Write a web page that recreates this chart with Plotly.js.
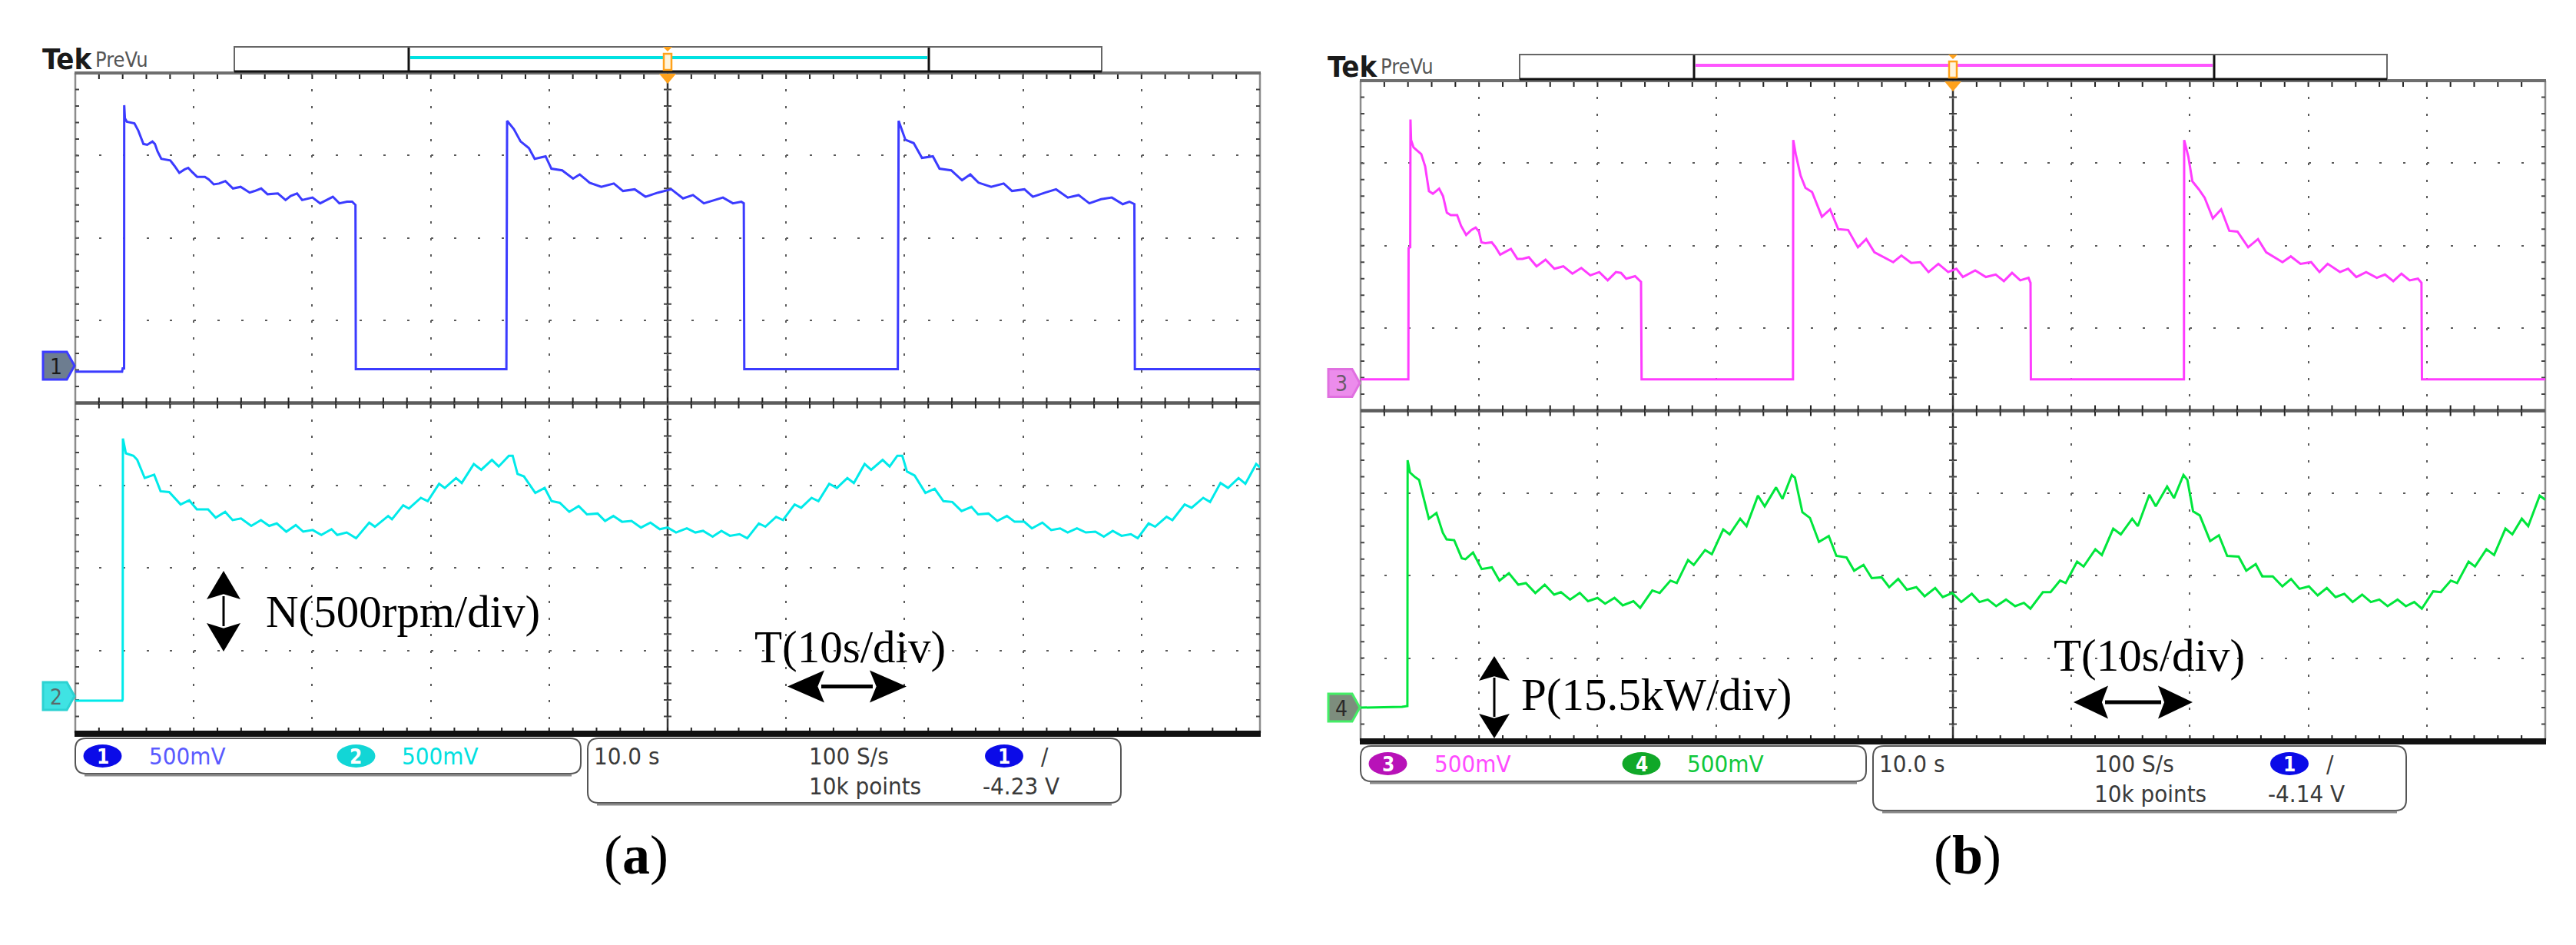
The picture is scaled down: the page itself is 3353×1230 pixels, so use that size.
<!DOCTYPE html>
<html><head><meta charset="utf-8">
<script src="https://cdn.plot.ly/plotly-3.0.1.min.js"></script>
<style>html,body{margin:0;padding:0;background:#fff}</style>
</head><body>
<div id="chart" style="width:3353px;height:1230px"></div>
<script>
// ---- DATA (time in s, value in screen divisions, 0 = bottom of graticule, 8 = top) ----
const ch1_samples = [[0,4.38],[3.95,4.38],[4.0,4.42],[4.12,4.42],[4.13,7.61],[4.19,7.45],[4.35,7.41],[4.99,7.39],[5.32,7.30],[5.75,7.14],[6.07,7.13],[6.51,7.17],[6.72,7.14],[6.94,7.05],[7.26,6.96],[8.02,6.94],[8.34,6.88],[8.78,6.79],[9.21,6.83],[9.53,6.85],[9.86,6.80],[10.29,6.74],[10.94,6.74],[11.26,6.71],[11.69,6.65],[12.13,6.66],[12.67,6.69],[13.31,6.60],[13.96,6.62],[14.29,6.59],[14.72,6.55],[15.15,6.57],[15.69,6.60],[16.23,6.53],[17.10,6.54],[17.75,6.46],[18.18,6.51],[18.72,6.54],[19.15,6.46],[20.02,6.49],[20.67,6.42],[21.21,6.46],[21.74,6.50],[22.29,6.42],[22.94,6.44],[23.37,6.44],[23.65,6.40],[23.68,4.41],
[36.39,4.41],[36.45,7.42],[37.02,7.32],[37.59,7.17],[38.29,7.09],[38.78,6.96],[39.70,6.99],[40.19,6.84],[41.10,6.82],[42.02,6.72],[42.58,6.77],[43.42,6.67],[44.40,6.62],[45.46,6.66],[46.23,6.57],[47.22,6.59],[48.13,6.50],[49.19,6.55],[50.31,6.59],[51.30,6.48],[52.14,6.52],[53.06,6.42],[53.97,6.46],[54.67,6.49],[55.51,6.42],[56.22,6.44],[56.43,6.42],[56.47,4.41],
[69.43,4.41],[69.50,7.42],[70.07,7.19],[70.77,7.15],[71.47,6.97],[72.39,6.99],[72.95,6.84],[73.94,6.82],[74.85,6.70],[75.55,6.77],[76.25,6.67],[77.31,6.62],[78.37,6.66],[79.07,6.57],[80.12,6.59],[80.83,6.50],[81.88,6.55],[82.79,6.59],[83.78,6.49],[84.69,6.52],[85.60,6.42],[86.59,6.47],[87.50,6.49],[88.42,6.41],[88.98,6.44],[89.40,6.41],[89.44,4.41],[100,4.41]];

const ch2_samples = [[0,0.39],[3.96,0.39],[4.0,0.41],[4.02,3.57],[4.27,3.39],[4.91,3.36],[5.23,3.31],[5.86,3.09],[6.66,3.13],[7.20,2.93],[7.93,2.92],[8.89,2.77],[9.62,2.82],[10.26,2.71],[11.21,2.71],[11.85,2.61],[12.65,2.68],[13.28,2.58],[13.99,2.60],[14.85,2.51],[15.67,2.58],[16.37,2.51],[17.01,2.54],[17.81,2.44],[18.61,2.52],[19.24,2.44],[20.04,2.46],[20.77,2.40],[21.63,2.47],[22.11,2.40],[22.91,2.43],[23.70,2.36],[24.81,2.55],[25.29,2.50],[26.41,2.63],[26.73,2.59],[27.68,2.76],[28.16,2.72],[29.17,2.85],[29.75,2.81],[30.71,3.02],[31.19,2.97],[32.14,3.09],[32.62,3.03],[33.64,3.26],[34.27,3.19],[35.17,3.31],[35.74,3.23],[36.60,3.36],[36.92,3.36],[37.33,3.14],[37.87,3.11],[38.83,2.91],[39.62,2.97],[40.20,2.81],[40.90,2.79],[41.70,2.68],[42.49,2.75],[43.19,2.65],[44.09,2.66],[44.72,2.57],[45.42,2.63],[46.15,2.56],[46.95,2.57],[47.75,2.49],[48.55,2.55],[49.34,2.47],[50.00,2.49],[50.71,2.43],[51.62,2.48],[52.34,2.43],[52.99,2.45],[53.80,2.38],[54.54,2.45],[55.26,2.39],[56.07,2.41],[56.72,2.36],[57.70,2.54],[58.25,2.50],[59.16,2.62],[59.74,2.58],[60.72,2.77],[61.27,2.73],[62.15,2.85],[62.73,2.81],[63.64,3.02],[64.29,2.97],[65.17,3.09],[65.72,3.03],[66.63,3.26],[67.18,3.19],[68.15,3.31],[68.74,3.23],[69.39,3.36],[69.81,3.36],[70.20,3.17],[70.85,3.12],[71.76,2.91],[72.54,2.96],[73.28,2.81],[74.03,2.80],[74.81,2.69],[75.65,2.74],[76.21,2.65],[77.08,2.66],[77.83,2.57],[78.64,2.63],[79.29,2.56],[80.10,2.56],[80.75,2.48],[81.63,2.55],[82.38,2.46],[83.13,2.48],[83.77,2.43],[84.55,2.48],[85.30,2.43],[86.11,2.44],[86.82,2.38],[87.57,2.45],[88.32,2.39],[89.10,2.41],[89.68,2.36],[90.60,2.54],[91.15,2.50],[92.12,2.62],[92.61,2.58],[93.64,2.77],[94.23,2.73],[95.21,2.85],[95.79,2.80],[96.67,3.03],[97.31,2.97],[98.19,3.09],[98.77,3.02],[99.68,3.26],[100,3.22]];

const ch3_samples = [[0,4.38],[4.03,4.38],[4.05,5.97],[4.19,5.98],[4.21,7.53],[4.26,7.28],[4.47,7.19],[5.12,7.11],[5.45,6.96],[5.77,6.66],[6.10,6.63],[6.63,6.69],[6.96,6.60],[7.28,6.40],[7.61,6.37],[8.15,6.37],[8.48,6.24],[8.91,6.13],[9.34,6.19],[9.71,6.22],[9.99,6.17],[10.20,6.04],[10.53,6.03],[11.07,6.04],[11.40,5.98],[11.78,5.89],[12.15,5.92],[12.69,5.96],[13.23,5.84],[13.66,5.84],[14.20,5.86],[14.85,5.75],[15.61,5.83],[16.36,5.72],[17.12,5.75],[17.88,5.66],[18.63,5.73],[19.39,5.64],[20.15,5.68],[20.86,5.58],[21.55,5.68],[21.98,5.67],[22.42,5.60],[23.17,5.63],[23.67,5.56],[23.72,4.38],
[36.50,4.38],[36.52,7.28],[36.73,7.11],[37.14,6.85],[37.55,6.70],[38.11,6.65],[38.94,6.35],[39.63,6.44],[40.32,6.20],[41.15,6.19],[41.98,5.98],[42.68,6.08],[43.37,5.92],[44.96,5.80],[45.65,5.88],[46.48,5.79],[47.25,5.80],[47.94,5.68],[48.77,5.78],[49.60,5.68],[50.29,5.72],[50.84,5.62],[51.88,5.70],[52.78,5.62],[53.61,5.65],[54.30,5.57],[54.99,5.67],[55.68,5.58],[56.38,5.61],[56.55,5.55],[56.58,4.38],
[69.50,4.38],[69.52,7.28],[69.87,7.08],[70.21,6.78],[70.77,6.68],[71.25,6.58],[71.94,6.33],[72.64,6.44],[73.33,6.18],[74.02,6.17],[74.92,5.98],[75.75,6.08],[76.44,5.92],[77.82,5.80],[78.52,5.87],[79.34,5.78],[80.24,5.80],[80.94,5.68],[81.63,5.78],[82.67,5.68],[83.36,5.72],[84.05,5.62],[84.88,5.68],[85.78,5.61],[86.47,5.65],[87.17,5.57],[87.86,5.66],[88.55,5.58],[89.25,5.60],[89.55,5.55],[89.59,4.38],[100,4.38]];

const ch4_samples = [[0,0.40],[3.5,0.41],[3.95,0.42],[3.97,3.40],[4.17,3.25],[4.55,3.20],[4.94,3.16],[5.35,2.91],[5.76,2.69],[6.40,2.76],[6.94,2.52],[7.26,2.44],[7.90,2.43],[8.54,2.21],[8.85,2.20],[9.49,2.28],[10.22,2.08],[11.08,2.10],[11.72,1.94],[12.52,2.03],[13.31,1.89],[13.95,1.91],[14.75,1.79],[15.54,1.89],[16.34,1.77],[16.91,1.80],[17.68,1.71],[18.50,1.79],[19.20,1.69],[20.00,1.73],[20.64,1.66],[21.43,1.73],[22.13,1.64],[23.03,1.69],[23.60,1.61],[24.62,1.82],[25.25,1.79],[26.15,1.94],[26.69,1.91],[27.64,2.19],[28.12,2.13],[29.08,2.31],[29.65,2.26],[30.61,2.56],[31.15,2.50],[32.04,2.69],[32.58,2.60],[33.54,2.97],[34.11,2.84],[35.07,3.07],[35.61,2.93],[36.40,3.22],[36.66,3.19],[37.29,2.77],[37.93,2.70],[38.69,2.41],[39.52,2.48],[40.16,2.24],[41.02,2.22],[41.66,2.06],[42.45,2.13],[43.15,1.97],[43.98,1.98],[44.62,1.86],[45.38,1.96],[46.11,1.83],[46.91,1.86],[47.61,1.75],[48.50,1.85],[49.14,1.74],[49.94,1.79],[50.70,1.68],[51.59,1.78],[52.24,1.68],[52.94,1.71],[53.65,1.63],[54.48,1.71],[55.25,1.63],[55.99,1.67],[56.54,1.60],[57.59,1.80],[58.24,1.80],[59.04,1.94],[59.52,1.91],[60.48,2.17],[61.03,2.11],[62.02,2.32],[62.57,2.25],[63.53,2.57],[64.17,2.50],[65.13,2.69],[65.61,2.60],[66.58,2.98],[67.12,2.84],[68.08,3.08],[68.66,2.94],[69.46,3.22],[69.79,3.16],[70.27,2.78],[70.84,2.73],[71.71,2.42],[72.45,2.49],[73.15,2.24],[74.12,2.23],[74.76,2.06],[75.56,2.14],[76.11,1.99],[77.00,1.99],[77.81,1.87],[78.54,1.96],[79.25,1.84],[80.05,1.87],[80.79,1.76],[81.56,1.85],[82.30,1.74],[83.04,1.78],[83.74,1.68],[84.54,1.77],[85.28,1.68],[85.99,1.71],[86.69,1.63],[87.53,1.71],[88.23,1.63],[88.94,1.68],[89.58,1.60],[90.54,1.81],[91.18,1.80],[92.02,1.94],[92.56,1.91],[93.53,2.17],[94.07,2.11],[95.03,2.32],[95.68,2.25],[96.64,2.57],[97.22,2.50],[98.02,2.69],[98.56,2.60],[99.53,2.97],[100,2.92]];

const channel_names = ['1','2','3','4'];
const channel_scales = ['500mV','500mV','500mV','500mV'];
const timebase_labels = ['10.0 s','10.0 s'];
const sample_rate_labels = ['100 S/s','100 S/s'];
const record_labels = ['10k points','10k points'];
const trigger_levels = ['-4.23 V','-4.14 V'];
const quantity_labels = ['N(500rpm/div)','P(15.5kW/div)'];
const time_label = 'T(10s/div)';
const panel_tags = ['a','b'];

// ---- drawing helpers ----
const W = 3353, H = 1230;
const nx = v => v / W, ny = v => 1 - v / H;
const sx = v => nx(v).toFixed(6), sy = v => ny(v).toFixed(6);
const shapes = [], annotations = [];
const FN = "Liberation Sans Narrow, DejaVu Sans Condensed, Liberation Sans, sans-serif";
const FS = "Liberation Serif, serif";
function seg(x0,y0,x1,y1){return 'M'+sx(x0)+','+sy(y0)+'L'+sx(x1)+','+sy(y1);}
function poly(pts){return 'M'+pts.map(p=>sx(p[0])+','+sy(p[1])).join('L')+'Z';}
function rrect(x0,y0,x1,y1,r){
  return 'M'+sx(x0+r)+','+sy(y0)+'L'+sx(x1-r)+','+sy(y0)+'Q'+sx(x1)+','+sy(y0)+' '+sx(x1)+','+sy(y0+r)+
   'L'+sx(x1)+','+sy(y1-r)+'Q'+sx(x1)+','+sy(y1)+' '+sx(x1-r)+','+sy(y1)+
   'L'+sx(x0+r)+','+sy(y1)+'Q'+sx(x0)+','+sy(y1)+' '+sx(x0)+','+sy(y1-r)+
   'L'+sx(x0)+','+sy(y0+r)+'Q'+sx(x0)+','+sy(y0)+' '+sx(x0+r)+','+sy(y0)+'Z';
}
function addPath(d,color,width,fill,layer){
  shapes.push({type:'path',xref:'paper',yref:'paper',path:d,
    line:{color:color,width:width},fillcolor:fill||'rgba(0,0,0,0)',layer:layer||'above'});
}
function txt(x,y,text,size,color,family,xanchor){
  annotations.push({xref:'paper',yref:'paper',x:nx(x),y:ny(y),text:text,showarrow:false,
    xanchor:xanchor||'left',yanchor:'middle',borderpad:0,font:{size:size,color:color,family:family}});
}
function badge(cx,cy,color,label){
  shapes.push({type:'circle',xref:'paper',yref:'paper',x0:nx(cx-25),x1:nx(cx+25),y0:ny(cy+15),y1:ny(cy-15),
    fillcolor:color,line:{width:0}});
  txt(cx,cy+1,'<b>'+label+'</b>',26,'#ffffff',FN,'center');
}
function groundMarker(xl,yc,fill,stroke,label,tc){
  addPath(poly([[xl,yc-18],[xl+31,yc-18],[xl+41,yc],[xl+31,yc+18],[xl,yc+18]]),stroke,3,fill);
  txt(xl+17,yc+1,label,28,tc,FN,'center');
}
function vArrow(cx,yt,yb,hl,hw,sw){
  addPath(poly([[cx,yt],[cx+hw/2,yt+hl],[cx,yt+hl*0.82],[cx-hw/2,yt+hl]]),'#000',0,'#000');
  addPath(poly([[cx,yb],[cx+hw/2,yb-hl],[cx,yb-hl*0.82],[cx-hw/2,yb-hl]]),'#000',0,'#000');
  addPath(seg(cx,yt+hl-4,cx,yb-hl+4),'#000',sw);
}
function hArrow(xl,xr,cy,hl,hh,sw){
  addPath(poly([[xl,cy],[xl+hl,cy-hh/2],[xl+hl*0.82,cy],[xl+hl,cy+hh/2]]),'#000',0,'#000');
  addPath(poly([[xr,cy],[xr-hl,cy-hh/2],[xr-hl*0.82,cy],[xr-hl,cy+hh/2]]),'#000',0,'#000');
  addPath(seg(xl+hl-4,cy,xr-hl+4,cy),'#000',sw);
}

const panels = [
  {X0:98, Y0:95, X1:1640, Y1:954, xa:'x', ya:'y', bar:'#00e1e1',
   chans:[{name:channel_names[0],badge:'#0b0be8',text:'#5a5aff',gy:476,fill:'#6d7d90',stroke:'#3c3cff',tc:'#1a1a1a'},
          {name:channel_names[1],badge:'#12d6d6',text:'#00e0e0',gy:906,fill:'#3fe3e3',stroke:'#2cd2d2',tc:'#5a6a6a'}],
   scales:[channel_scales[0],channel_scales[1]],
   trig:trigger_levels[0], qlabel:quantity_labels[0], ql:[345,796], va:[291,743,848,37,44,3],
   tl:[981,842], ha:[1025,1180,893.5,48,42,5], tag:[828,1113,panel_tags[0]]},
  {X0:1771, Y0:105, X1:3313, Y1:964, xa:'x2', ya:'y2', bar:'#ff55ff',
   chans:[{name:channel_names[2],badge:'#b812b8',text:'#ff4cff',gy:498.5,fill:'#ec8cec',stroke:'#e070e0',tc:'#6a5a6a'},
          {name:channel_names[3],badge:'#10a828',text:'#10c83c',gy:921,fill:'#7d8d7d',stroke:'#44ee66',tc:'#2a2a2a'}],
   scales:[channel_scales[2],channel_scales[3]],
   trig:trigger_levels[1], qlabel:quantity_labels[1], ql:[1979,904], va:[1945,854,961,32,40,3],
   tl:[2672,853], ha:[2699,2854,914,45,43,5], tag:[2561,1113,panel_tags[1]]}
];

const layout = {width:W,height:H,margin:{l:0,r:0,t:0,b:0},paper_bgcolor:'#ffffff',
  plot_bgcolor:'rgba(0,0,0,0)',showlegend:false,shapes:shapes,annotations:annotations};

panels.forEach((p,i)=>{
  const {X0,Y0,X1,Y1} = p;
  const dx=(X1-X0)/10, dy=(Y1-Y0)/8, Xc=X0+5*dx, Ys=Y0+4*dy;
  const xname = i===0?'xaxis':'xaxis2', yname = i===0?'yaxis':'yaxis2';
  layout[xname] = {domain:[nx(X0),nx(X1)],range:[0,100],anchor:p.ya,showgrid:true,dtick:10,tick0:0,
    gridcolor:'#5a5a5a',gridwidth:2,griddash:'3px,'+(dy/5-3).toFixed(3)+'px',
    showticklabels:false,ticks:'',zeroline:false,showline:false,fixedrange:true};
  layout[yname] = {domain:[ny(Y1),ny(Y0)],range:[0,8],anchor:p.xa,showgrid:true,dtick:1,tick0:0,
    gridcolor:'#5a5a5a',gridwidth:2,griddash:'3px,'+(dx/5-3).toFixed(3)+'px',
    showticklabels:false,ticks:'',zeroline:false,showline:false,fixedrange:true};

  // graticule frame & center lines
  addPath(seg(X0,Y0,X0,Y1)+seg(X1,Y0,X1,Y1),'#8c8c8c',2.5,null,'below');
  let t='';
  for(let k=1;k<40;k++){const y=Y0+k*dy/5; t+=seg(X0,y,X0+5,y)+seg(X1-5,y,X1,y)+seg(Xc-5,y,Xc+5,y);}
  addPath(t,'#444',2,null,'below');
  addPath(seg(Xc,Y0,Xc,Y1),'#333',2.5,null,'below');
  addPath(seg(X0,Ys,X1,Ys),'#5c5c5c',4.5,null,'below');
  t='';
  for(let k=1;k<50;k++){const x=X0+k*dx/5; t+=seg(x,Ys-7,x,Ys+7)+seg(x,Y0,x,Y0+8)+seg(x,Y1-7,x,Y1);}
  addPath(t,'#222',2,null,'below');
  addPath(seg(X0-1,Y0,X1+1,Y0),'#6e6e6e',4,null,'below');
  addPath(seg(X0-1,Y1+1,X1+1,Y1+1),'#111',8,null,'below');

  // record bar
  const bx0=X0+207, bx1=X0+1336, by0=Y0-34, by1=Y0-2, ix0=X0+434, ix1=X0+1111;
  addPath(poly([[bx0,by0],[bx1,by0],[bx1,by1],[bx0,by1]]),'#666',2,'#fff');
  addPath(seg(bx0,by1,bx1,by1),'#111',3);
  addPath(seg(ix0,by0+1,ix0,by1)+seg(ix1,by0+1,ix1,by1),'#111',3);
  addPath(seg(ix0+2,Y0-20,ix1-2,Y0-20),p.bar,4);
  const og='#ffa21c';
  addPath(poly([[Xc-6,by0],[Xc+6,by0],[Xc,by0+6]]),og,0,og);
  addPath(poly([[Xc-5,by0+9],[Xc+5,by0+9],[Xc+5,by1-2],[Xc-5,by1-2]]),og,2.5,'#fff4dc');
  addPath(poly([[Xc-11,Y0+1],[Xc+11,Y0+1],[Xc,Y0+14]]),og,0,og);
  txt(X0-44,Y0-18,'<b>Tek</b>',38,'#1a1a1a',FN);
  txt(X0+25,Y0-18,'PreVu',27,'#555',FN);

  // ground markers
  p.chans.forEach(c=>groundMarker(X0-42,c.gy,c.fill,c.stroke,c.name,c.tc));

  // readout boxes
  addPath(rrect(X0,Y1+7,X0+658,Y1+53,14),'#555',2,'#fff');
  addPath(rrect(X0+667,Y1+7,X0+1361,Y1+91,14),'#555',2,'#fff');
  addPath(seg(X0+12,Y1+55,X0+646,Y1+55)+seg(X0+679,Y1+93,X0+1349,Y1+93),'#8a8a8a',3);
  const r1=Y1+30, r2=Y1+69;
  badge(X0+35.5,r1,p.chans[0].badge,p.chans[0].name);
  txt(X0+95,r1,p.scales[0],31,p.chans[0].text,FN);
  badge(X0+365.5,r1,p.chans[1].badge,p.chans[1].name);
  txt(X0+424,r1,p.scales[1],31,p.chans[1].text,FN);
  txt(X0+674,r1,timebase_labels[i],31,'#3a3a3a',FN);
  txt(X0+954,r1,sample_rate_labels[i],31,'#3a3a3a',FN);
  badge(X0+1209,r1,'#0b0be8',channel_names[0]);
  txt(X0+1256,r1,'/',31,'#3a3a3a',FN);
  txt(X0+954,r2,record_labels[i],31,'#3a3a3a',FN);
  txt(X0+1180,r2,p.trig,31,'#3a3a3a',FN);

  // annotations in the plot
  txt(p.ql[0],p.ql[1],p.qlabel,59,'#000',FS);
  vArrow.apply(null,p.va);
  txt(p.tl[0],p.tl[1],time_label,59,'#000',FS);
  hArrow.apply(null,p.ha);
  txt(p.tag[0],p.tag[1],'(<b>'+p.tag[2]+'</b>)',72,'#000',FS,'center');
});

function trace(samples,xa,ya,color){
  return {type:'scatter',mode:'lines',x:samples.map(s=>s[0]),y:samples.map(s=>s[1]),
    xaxis:xa,yaxis:ya,line:{color:color,width:3},hoverinfo:'skip',showlegend:false};
}
const data = [
  trace(ch1_samples,'x','y','#3b3bff'),
  trace(ch2_samples,'x','y','#00eaea'),
  trace(ch3_samples,'x2','y2','#ff3cff'),
  trace(ch4_samples,'x2','y2','#00e63c')
];
Plotly.newPlot('chart',data,layout,{staticPlot:true,displayModeBar:false});
</script>
</body></html>
